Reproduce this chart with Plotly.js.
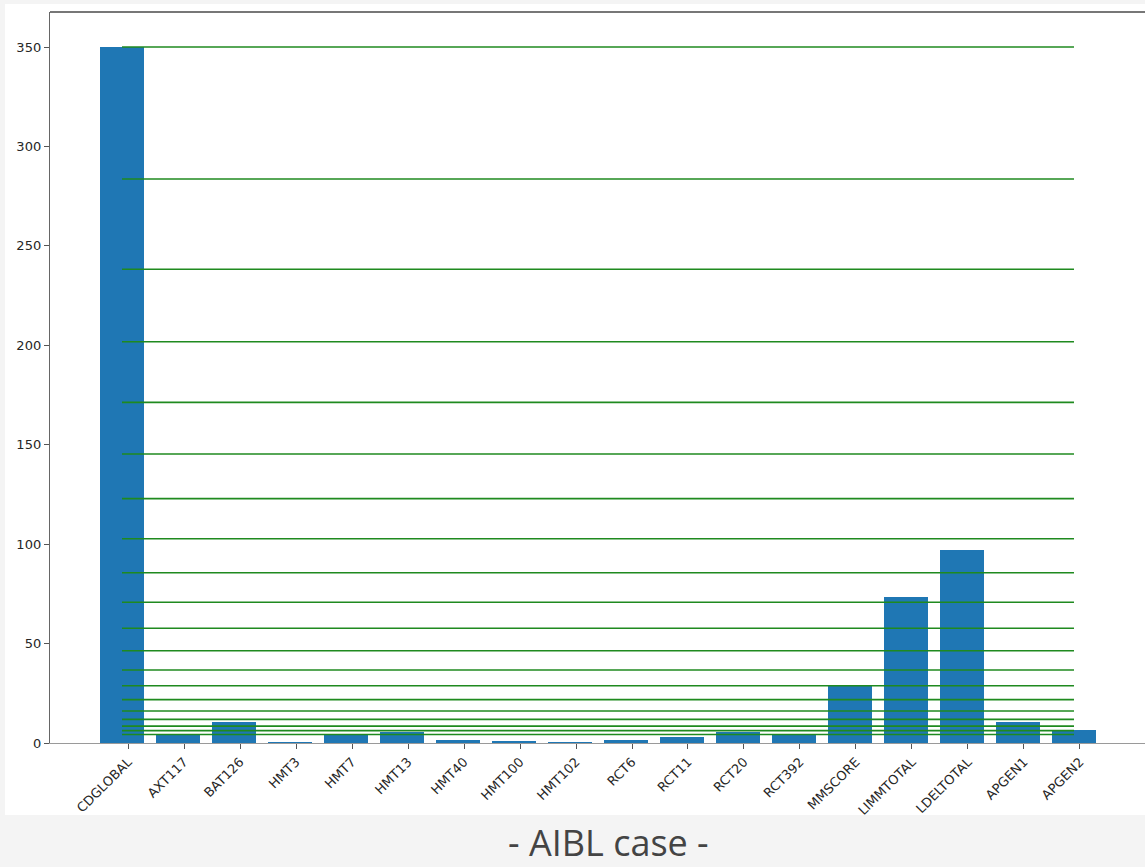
<!DOCTYPE html>
<html>
<head>
<meta charset="utf-8">
<script src="https://cdn.plot.ly/plotly-3.0.1.min.js"></script>
<style>
  html, body { margin: 0; padding: 0; background: #f4f4f4; }
  #chart { width: 1145px; height: 867px; }
</style>
</head>
<body>
<div id="chart"></div>
<script>
// ---- data ----
const categories = ["CDGLOBAL", "AXT117", "BAT126", "HMT3", "HMT7", "HMT13", "HMT40", "HMT100",
  "HMT102", "RCT6", "RCT11", "RCT20", "RCT392", "MMSCORE", "LIMMTOTAL", "LDELTOTAL", "APGEN1", "APGEN2"];
const values = [350, 4.3, 10.4, 0.6, 4.3, 5.5, 1.4, 1.0, 0.6, 1.4, 3.1, 5.7, 4.3, 28.8, 73.2, 97.1, 10.7, 6.5];
const thresholds = [350, 283.6, 238.2, 201.8, 171.3, 145.3, 122.9, 102.7, 85.6, 70.8, 57.7,
  46.4, 36.7, 28.8, 21.8, 16.1, 11.9, 8.5, 6.2, 4.3];
const yTicks = [0, 50, 100, 150, 200, 250, 300, 350];
const caption = "- AIBL case -";

// ---- build traces ----
const idx = categories.map((_, i) => i);
const tickShift = 0.107;              // ticks sit slightly right of bar centres in the original
const tickPos = idx.map(i => i + tickShift);
const lineStart = 0, lineEnd = categories.length - 1;
const hx = [], hy = [];
thresholds.forEach(t => { hx.push(lineStart, lineEnd, null); hy.push(t, t, null); });

const bars = {
  type: "bar", x: idx, y: values, width: 0.8,
  marker: { color: "#1f77b4", line: { width: 0 } },
  hoverinfo: "x+y"
};
const lines = {
  type: "scatter", mode: "lines", x: hx, y: hy,
  line: { color: "#1f8a1f", width: 1.6 },
  hoverinfo: "y"
};

const W = 1145, H = 867, L = 50, R = 0, T = 12, B = 124;
const pw = W - L - R, ph = H - T - B;

const layout = {
  width: W, height: H,
  margin: { l: L, r: R, t: T, b: B, pad: 0 },
  paper_bgcolor: "#f4f4f4",
  plot_bgcolor: "#ffffff",
  showlegend: false,
  bargap: 0,
  font: { family: "DejaVu Sans, sans-serif", size: 13, color: "#262626" },
  xaxis: {
    range: [-1.286, 18.268],
    tickmode: "array", tickvals: tickPos, ticktext: categories,
    tickangle: -45,
    ticks: "outside", ticklen: 5, tickcolor: "#555", tickwidth: 1,
    showline: true, linecolor: "#9a9a9a", linewidth: 1.3,
    showgrid: false, zeroline: false,
    tickfont: { family: "DejaVu Sans, sans-serif", size: 13, color: "#262626" }
  },
  yaxis: {
    range: [0, 367.6],
    tickmode: "array", tickvals: yTicks,
    ticks: "outside", ticklen: 5, tickcolor: "#555", tickwidth: 1,
    showline: true, linecolor: "#666", linewidth: 1.2,
    showgrid: false, zeroline: false,
    tickfont: { family: "DejaVu Sans, sans-serif", size: 13, color: "#262626" }
  },
  shapes: [
    { type: "rect", xref: "paper", yref: "paper", layer: "below",
      x0: -45 / pw, x1: 1, y0: -72 / ph, y1: 739 / ph,
      fillcolor: "#ffffff", line: { width: 0 } },
    { type: "line", xref: "paper", yref: "paper",
      x0: 0, x1: 1, y0: 1, y1: 1,
      line: { color: "#4a4a4a", width: 1.3 } }
  ],
  annotations: [
    { text: caption, xref: "paper", yref: "paper",
      x: (608 - L) / pw, y: -(842.5 - (H - B)) / ph,
      xanchor: "center", yanchor: "middle", showarrow: false,
      font: { family: "Open Sans, sans-serif", size: 36, color: "#444444" } }
  ]
};

Plotly.newPlot("chart", [bars, lines], layout, { displayModeBar: false, staticPlot: true });
</script>
</body>
</html>
